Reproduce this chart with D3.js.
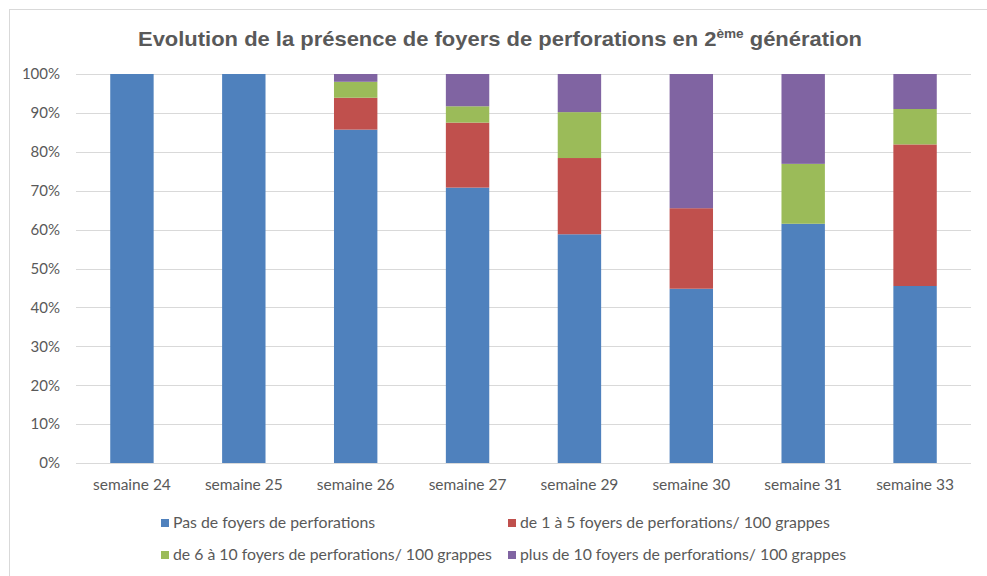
<!DOCTYPE html>
<html><head><meta charset="utf-8">
<script src="https://cdn.jsdelivr.net/npm/d3@7"></script>
<style>body{margin:0;background:#fff}svg{display:block}</style>
</head><body>
<svg id="c" width="987" height="576"></svg>
<script>
const categories = ["semaine 24","semaine 25","semaine 26","semaine 27","semaine 29","semaine 30","semaine 31","semaine 33"];
const seriesNames = ["Pas de foyers de perforations","de 1 à 5 foyers de perforations/ 100 grappes","de 6 à 10 foyers de perforations/ 100 grappes","plus de 10 foyers de perforations/ 100 grappes"];
const pasDeFoyers = [100, 100, 85.7, 70.8, 58.8, 44.8, 61.5, 45.5];
const de1a5 =       [0, 0, 8.2, 16.7, 19.6, 20.7, 0, 36.4];
const de6a10 =      [0, 0, 4.1, 4.2, 11.8, 0, 15.4, 9.1];
const plusDe10 =    [0, 0, 2.0, 8.3, 9.8, 34.5, 23.1, 9.0];
const yTicks = [0,10,20,30,40,50,60,70,80,90,100];
const colors = ["#4f81bd","#c0504d","#9bbb59","#8064a2"];

const svg = d3.select("#c");
const font = "Lato, 'Open Sans', sans-serif";
svg.append("rect").attr("x",9.5).attr("y",9.5).attr("width",1000).attr("height",600)
  .attr("fill","#fff").attr("stroke","#d9d9d9");

const title = svg.append("text").attr("x",500).attr("y",46).attr("text-anchor","middle")
  .attr("font-family","Arial, 'Liberation Sans', sans-serif").attr("font-weight","bold")
  .attr("font-size",21).attr("fill","#595959");
title.append("tspan").text("Evolution de la présence de foyers de perforations en 2");
title.append("tspan").attr("dy",-8).attr("font-size",13).text("ème");
title.append("tspan").attr("dy",8).text(" génération");
const tw = title.node().getComputedTextLength();
if (tw > 0) title.attr("textLength", 724).attr("lengthAdjust","spacingAndGlyphs");

const x = d3.scaleBand().domain(categories).range([76,971]).paddingInner(0.612).paddingOuter(0.306);
const y = d3.scaleLinear().domain([0,100]).range([463,74]);

const table = categories.map((c,i)=>({cat:c, s0:pasDeFoyers[i], s1:de1a5[i], s2:de6a10[i], s3:plusDe10[i]}));
const stack = d3.stack().keys(["s0","s1","s2","s3"])(table);

svg.append("g").selectAll("line").data(yTicks).join("line")
  .attr("x1",76).attr("x2",971).attr("y1",d=>Math.round(y(d))+0.5).attr("y2",d=>Math.round(y(d))+0.5)
  .attr("stroke","#d9d9d9").attr("stroke-width",1);

const yAxis = svg.append("g").attr("transform","translate(76,0)")
  .call(d3.axisLeft(y).tickValues(yTicks).tickSize(0).tickPadding(16).tickFormat(d=>d+"%"));
yAxis.select(".domain").remove();
yAxis.selectAll("text").attr("font-family",font).attr("font-size",15).attr("fill","#595959");

svg.append("g").selectAll("g").data(stack).join("g").attr("fill",(d,i)=>colors[i])
  .selectAll("rect").data(d=>d).join("rect")
  .attr("x",d=>x(d.data.cat)).attr("width",x.bandwidth())
  .attr("y",d=>y(d[1])).attr("height",d=>y(d[0])-y(d[1]));

const xAxis = svg.append("g").attr("transform","translate(0,463)")
  .call(d3.axisBottom(x).tickSize(0).tickPadding(16));
xAxis.select(".domain").remove();
xAxis.selectAll("text").attr("font-family",font).attr("font-size",15.5).attr("fill","#595959");

const legPos = [[161,519],[508,519],[161,551],[508,551]];
const leg = svg.append("g").selectAll("g").data(seriesNames).join("g")
  .attr("transform",(d,i)=>`translate(${legPos[i][0]},${legPos[i][1]})`);
leg.append("rect").attr("width",8).attr("height",8).attr("fill",(d,i)=>colors[i]);
leg.append("text").attr("x",12).attr("y",9).text(d=>d)
  .attr("font-family",font).attr("font-size",15.8).attr("fill","#595959");
</script>
</body></html>
